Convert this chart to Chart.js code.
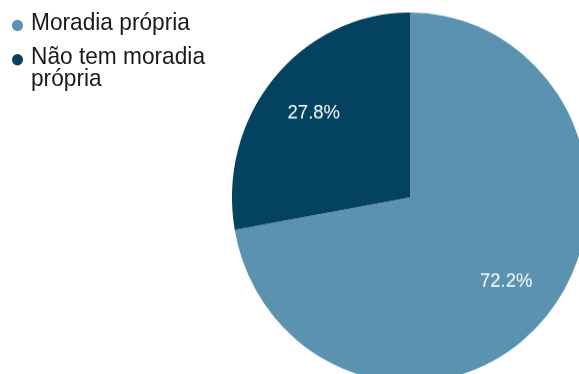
<!DOCTYPE html>
<html>
<head>
<meta charset="utf-8">
<script src="https://cdn.jsdelivr.net/npm/chart.js@4/dist/chart.umd.min.js"></script>
<style>
  html, body { margin: 0; padding: 0; background: #fff; overflow: hidden; width: 579px; height: 374px; }
  /* whole figure is slightly taller than wide */
  #page { position: absolute; left: 0; top: 0; width: 820px; height: 380px; transform: scaleY(1.039); transform-origin: 0 0; }
  #wrap { position: absolute; left: 0; top: 0; width: 820px; height: 380px; }
  #legend { position: absolute; left: 12px; top: 10.5px; font-family: "Liberation Sans", Arial, sans-serif; font-size: 22.7px; color: #1a1a1a; }
  #legend .item { position: relative; padding-left: 19px; line-height: 21px; margin-bottom: 12.7px; width: 200px; }
  #legend .dot { position: absolute; left: 0; top: 8px; width: 11px; height: 11px; border-radius: 50%; }
</style>
</head>
<body>
<div id="page">
  <div id="wrap"><canvas id="myChart" width="820" height="380"></canvas></div>
  <div id="legend"></div>
</div>
<script>
var labels = ["Moradia própria", "Não tem moradia própria"]
var values = [72.2, 27.8]
var colors = ["#5b92b0", "#03435f"]

// percentage text in the middle of each slice
var sliceLabels = {
  id: "sliceLabels",
  afterDatasetsDraw: function(chart) {
    var ctx = chart.ctx
    var meta = chart.getDatasetMeta(0)
    ctx.save()
    ctx.fillStyle = "#ffffff"
    ctx.font = "18.5px 'Liberation Sans', Arial, sans-serif"
    ctx.textAlign = "center"
    ctx.textBaseline = "middle"
    meta.data.forEach(function(arc, i) {
      var mid = (arc.startAngle + arc.endAngle) / 2
      var r = arc.outerRadius * 0.705
      var x = arc.x + Math.cos(mid) * r
      var y = arc.y + Math.sin(mid) * r
      ctx.fillText(values[i].toFixed(1) + "%", x, y)
    })
    ctx.restore()
  }
}

var chart = new Chart("myChart", {
  type: "pie",
  data: {
    labels: labels,
    datasets: [{
      data: values,
      backgroundColor: colors,
      borderWidth: 0
    }]
  },
  options: {
    responsive: false,
    animation: false,
    layout: { padding: 12 },
    plugins: {
      legend: { display: false },
      tooltip: { enabled: false }
    }
  },
  plugins: [sliceLabels]
})

var legend = document.getElementById("legend")
labels.forEach(function(name, i) {
  var item = document.createElement("div")
  item.className = "item"
  var dot = document.createElement("span")
  dot.className = "dot"
  dot.style.background = colors[i]
  item.appendChild(dot)
  item.appendChild(document.createTextNode(name))
  legend.appendChild(item)
})
</script>
</body>
</html>
